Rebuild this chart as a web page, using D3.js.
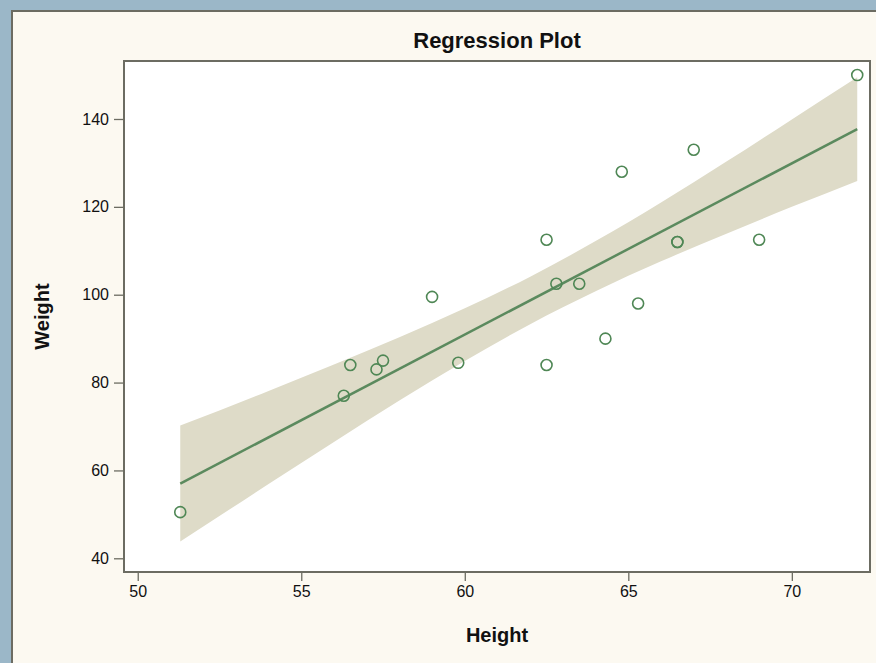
<!DOCTYPE html>
<html>
<head>
<meta charset="utf-8">
<script src="https://cdn.jsdelivr.net/npm/d3@7"></script>
<style>
  body { margin: 0; background: #fcf9f1; }
  text { font-family: Arial, "Liberation Sans", sans-serif; fill: #111; }
</style>
</head>
<body>
<div id="chart"></div>
<script>
var svgWidth = 876;
var svgHeight = 663;

// Height / Weight observations
var heights = [69.0, 56.5, 65.3, 62.8, 63.5, 57.3, 59.8, 62.5, 62.5, 59.0,
  51.3, 64.3, 56.3, 66.5, 72.0, 64.8, 67.0, 57.5, 66.5];
var weights = [112.5, 84.0, 98.0, 102.5, 102.5, 83.0, 84.5, 112.5, 84.0, 99.5,
  50.5, 90.0, 77.0, 112.0, 150.0, 128.0, 133.0, 85.0, 112.0];

// fitted line end points
var fitX = [51.3, 72.0];
var fitY = [57.0, 137.7];

// confidence band read at several heights
var bandX = [51.3, 54, 56, 58, 60, 62, 64, 66, 68, 70, 72];
var bandLo = [43.8, 56.9, 66.5, 75.9, 84.9, 93.3, 100.8, 107.6, 113.9, 120.0, 125.9];
var bandHi = [70.2, 78.1, 84.1, 90.3, 96.9, 104.1, 112.2, 121.0, 130.3, 139.9, 149.5];

var xTicks = [50, 55, 60, 65, 70];
var yTicks = [40, 60, 80, 100, 120, 140];

var margin = { top: 61, right: 6, bottom: 91, left: 124 };
var width = svgWidth - margin.left - margin.right;
var height = svgHeight - margin.top - margin.bottom;

var svg = d3.select("#chart")
  .append("svg")
  .attr("width", svgWidth)
  .attr("height", svgHeight);

// outer window frame
svg.append("rect")
  .attr("x", 0).attr("y", 0)
  .attr("width", svgWidth).attr("height", svgHeight)
  .attr("fill", "#fcf9f1");
svg.append("rect")
  .attr("x", 0).attr("y", 0)
  .attr("width", svgWidth).attr("height", 10)
  .attr("fill", "#9bb7c8");
svg.append("rect")
  .attr("x", 0).attr("y", 0)
  .attr("width", 11).attr("height", svgHeight)
  .attr("fill", "#9bb7c8");
svg.append("path")
  .attr("d", `M12,${svgHeight} V11 H${svgWidth}`)
  .attr("fill", "none")
  .attr("stroke", "#6c6c62")
  .attr("stroke-width", 2);

var chartGroup = svg.append("g")
  .attr("transform", `translate(${margin.left}, ${margin.top})`);

var xLinearScale = d3.scaleLinear()
  .domain([49.58, 72.39])
  .range([0, width]);

var yLinearScale = d3.scaleLinear()
  .domain([36.88, 153.2])
  .range([height, 0]);

chartGroup.append("rect")
  .attr("width", width)
  .attr("height", height)
  .attr("fill", "#ffffff");

// band
var bandData = bandX.map((x, i) => ({ x: x, lo: bandLo[i], hi: bandHi[i] }));
var area = d3.area()
  .x(d => xLinearScale(d.x))
  .y0(d => yLinearScale(d.lo))
  .y1(d => yLinearScale(d.hi))
  .curve(d3.curveMonotoneX);

chartGroup.append("path")
  .datum(bandData)
  .attr("d", area)
  .attr("fill", "#dedbc8");

// fit line
var line = d3.line()
  .x(d => xLinearScale(d[0]))
  .y(d => yLinearScale(d[1]));

chartGroup.append("path")
  .datum(fitX.map((x, i) => [x, fitY[i]]))
  .attr("d", line)
  .attr("fill", "none")
  .attr("stroke", "#5b8a5e")
  .attr("stroke-width", 2.5);

// observations
chartGroup.selectAll("circle")
  .data(heights)
  .enter()
  .append("circle")
  .attr("cx", d => xLinearScale(d))
  .attr("cy", (d, i) => yLinearScale(weights[i]))
  .attr("r", 5.5)
  .attr("fill", "none")
  .attr("stroke", "#4f8755")
  .attr("stroke-width", 1.6);

// axes
var bottomAxis = d3.axisBottom(xLinearScale)
  .tickValues(xTicks)
  .tickSize(9)
  .tickPadding(5);
var leftAxis = d3.axisLeft(yLinearScale)
  .tickValues(yTicks)
  .tickSize(10)
  .tickPadding(5);

var xAxis = chartGroup.append("g")
  .attr("transform", `translate(0, ${height})`)
  .call(bottomAxis);
var yAxis = chartGroup.append("g")
  .call(leftAxis);

[xAxis, yAxis].forEach(function(ax) {
  ax.attr("font-size", 16).attr("font-family", "Arial, 'Liberation Sans', sans-serif");
  ax.select(".domain").remove();
  ax.selectAll("line").attr("stroke", "#6c6c62").attr("stroke-width", 1.3);
  ax.selectAll("text")
    .style("font-size", "16px")
    .attr("fill", "#111");
});

// plot frame
chartGroup.append("rect")
  .attr("width", width)
  .attr("height", height)
  .attr("fill", "none")
  .attr("stroke", "#6c6c62")
  .attr("stroke-width", 2);

// title and axis labels
svg.append("text")
  .attr("x", margin.left + width / 2)
  .attr("y", 48)
  .attr("text-anchor", "middle")
  .attr("font-size", "22px")
  .attr("font-weight", "bold")
  .text("Regression Plot");

svg.append("text")
  .attr("x", margin.left + width / 2)
  .attr("y", 642)
  .attr("text-anchor", "middle")
  .attr("font-size", "20px")
  .attr("font-weight", "bold")
  .text("Height");

svg.append("text")
  .attr("transform", "rotate(-90)")
  .attr("x", -(margin.top + height / 2))
  .attr("y", 49)
  .attr("text-anchor", "middle")
  .attr("font-size", "20px")
  .attr("font-weight", "bold")
  .text("Weight");
</script>
</body>
</html>
